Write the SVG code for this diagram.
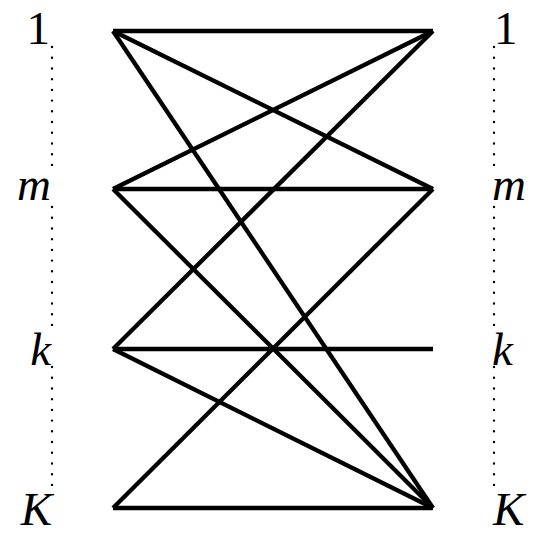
<svg xmlns="http://www.w3.org/2000/svg" width="550" height="547" viewBox="0 0 550 547">
<style>
.e{stroke:#000;stroke-width:4.3;fill:none;stroke-linecap:butt}
.d{stroke:#000;stroke-width:2.4;fill:none;stroke-linecap:round;stroke-dasharray:0 10.72}
.l{font-family:"Liberation Serif","Times New Roman",serif;font-size:47px;fill:#000}
.i{font-style:italic}
.r{text-anchor:end}
</style>
<rect width="550" height="547" fill="#fff"/>
<g id="connectors">
<line class="e" x1="113" y1="31" x2="433" y2="31"/>
<line class="e" x1="113" y1="31" x2="433" y2="189"/>
<line class="e" x1="113" y1="31" x2="433" y2="508"/>
<line class="e" x1="113" y1="189" x2="433" y2="31"/>
<line class="e" x1="113" y1="189" x2="433" y2="189"/>
<line class="e" x1="113" y1="189" x2="433" y2="508"/>
<line class="e" x1="113" y1="349" x2="433" y2="31"/>
<line class="e" x1="113" y1="349" x2="433" y2="349"/>
<line class="e" x1="113" y1="349" x2="433" y2="508"/>
<line class="e" x1="113" y1="508" x2="433" y2="189"/>
<line class="e" x1="113" y1="508" x2="433" y2="508"/>
</g>
<g id="left-dots">
<line class="d" x1="52" y1="47" x2="52" y2="165"/>
<line class="d" x1="52" y1="207" x2="52" y2="325"/>
<line class="d" x1="52" y1="367" x2="52" y2="485"/>
</g>
<g id="right-dots">
<line class="d" x1="494" y1="47" x2="494" y2="165"/>
<line class="d" x1="494" y1="207" x2="494" y2="325"/>
<line class="d" x1="494" y1="367" x2="494" y2="485"/>
</g>
<g id="L1"><text class="l r" x="50" y="44">1</text></g>
<g id="Lm"><text class="l r i" x="51" y="200">m</text></g>
<g id="Lk"><text class="l r i" x="51" y="365">k</text></g>
<g id="LK"><text class="l r i" x="52" y="525">K</text></g>
<g id="R1"><text class="l" x="494" y="44">1</text></g>
<g id="Rm"><text class="l i" x="492" y="200">m</text></g>
<g id="Rk"><text class="l i" x="492" y="365">k</text></g>
<g id="RK"><text class="l i" x="493" y="525">K</text></g>
</svg>
